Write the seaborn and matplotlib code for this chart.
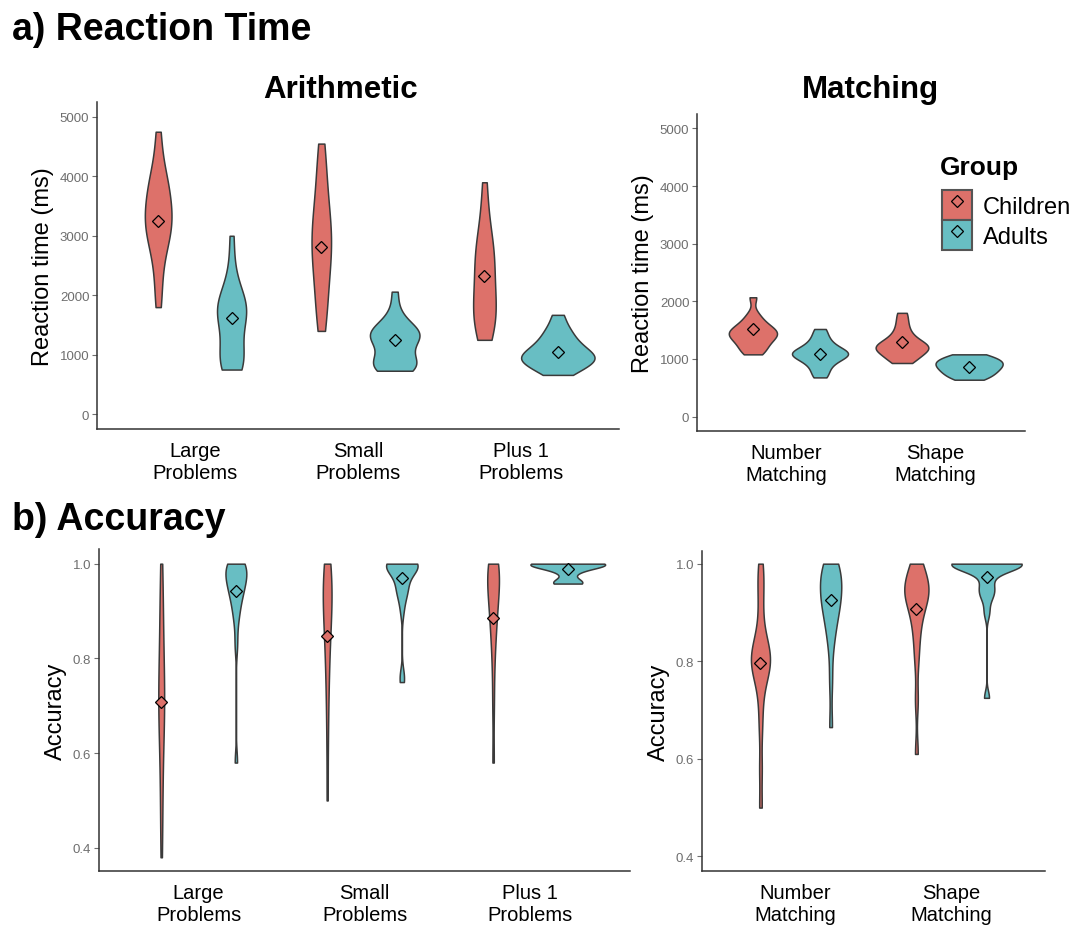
import numpy as np
import pandas as pd
import matplotlib
matplotlib.use("Agg")
import matplotlib.pyplot as plt
import seaborn as sns
from matplotlib.patches import Patch
from matplotlib.lines import Line2D
from matplotlib.legend_handler import HandlerTuple

# ---- data ----
groups = ["Children", "Adults"]
arith_tasks = ["Large\nProblems", "Small\nProblems", "Plus 1\nProblems"]
match_tasks = ["Number\nMatching", "Shape\nMatching"]

# reaction time (ms), arithmetic
rt_large_children = [1800, 2150, 2450, 2700, 2850, 2950, 3050, 3150, 3200, 3300,
                     3350, 3450, 3550, 3650, 3750, 3850, 3950, 4100, 4350, 4750]
rt_large_adults = [750, 770, 800, 850, 930, 1020, 1120, 1250, 1400, 1530, 1620,
                   1680, 1730, 1780, 1830, 1880, 1940, 2030, 2200, 2500, 3000]
rt_small_children = [1400, 1600, 1800, 2000, 2200, 2350, 2500, 2650, 2750, 2850,
                     2950, 3050, 3150, 3300, 3450, 3600, 3800, 4050, 4300, 4550]
rt_small_adults = [730, 745, 765, 790, 815, 845, 880, 925, 990, 1070, 1150, 1210,
                   1255, 1290, 1315, 1340, 1365, 1390, 1420, 1455, 1510, 1600,
                   1760, 2060]
rt_plus1_children = [1250, 1350, 1450, 1550, 1650, 1750, 1850, 1950, 2050, 2200,
                     2350, 2500, 2600, 2700, 2800, 2950, 3150, 3450, 3900]
rt_plus1_adults = [660, 715, 770, 815, 855, 885, 910, 935, 960, 990, 1020, 1055,
                   1095, 1140, 1190, 1250, 1320, 1400, 1500, 1670]

# reaction time (ms), matching
rt_number_children = [1080, 1130, 1190, 1250, 1300, 1340, 1380, 1410, 1440, 1460,
                      1490, 1520, 1560, 1610, 1680, 1780, 2070]
rt_number_adults = [680, 780, 870, 940, 990, 1030, 1060, 1080, 1100, 1120, 1150,
                    1190, 1240, 1310, 1400, 1520]
rt_shape_children = [930, 990, 1040, 1090, 1130, 1160, 1190, 1210, 1230, 1260,
                     1300, 1350, 1420, 1520, 1650, 1800]
rt_shape_adults = [640, 680, 720, 760, 790, 820, 850, 880, 905, 930, 955, 980,
                   1010, 1045, 1080]

# accuracy, arithmetic
acc_large_children = [0.38, 0.45, 0.50, 0.55, 0.60, 0.63, 0.66, 0.68, 0.70, 0.71,
                      0.72, 0.74, 0.76, 0.79, 0.82, 0.85, 0.88, 0.92, 0.96, 1.00]
acc_large_adults = [0.58, 0.83, 0.88, 0.90, 0.92, 0.93, 0.94, 0.95, 0.96, 0.96,
                    0.97, 0.98, 0.98, 0.99, 1.00, 1.00, 1.00, 1.00]
acc_small_children = [0.50, 0.62, 0.70, 0.75, 0.79, 0.82, 0.85, 0.87, 0.89, 0.90,
                      0.92, 0.93, 0.95, 0.96, 0.97, 0.98, 1.00, 1.00]
acc_small_adults = [0.75, 0.765, 0.90, 0.925, 0.94, 0.945, 0.95, 0.96, 0.975, 0.98,
                    0.99, 0.99, 1.0, 1.0, 1.0, 1.0, 1.0, 1.0, 1.0, 1.0, 1.0, 1.0]
acc_plus1_children = [0.58, 0.70, 0.78, 0.83, 0.86, 0.88, 0.90, 0.92, 0.93, 0.95,
                      0.96, 0.97, 0.98, 0.99, 1.00, 1.00, 1.00]
acc_plus1_adults = [0.958, 0.958, 0.958, 0.962, 0.965, 0.98, 0.985, 0.99, 0.99,
                    0.995, 1.0, 1.0, 1.0, 1.0, 1.0, 1.0, 1.0, 1.0, 1.0, 1.0]

# accuracy, matching
acc_number_children = [0.50, 0.58, 0.66, 0.71, 0.75, 0.77, 0.78, 0.79, 0.80, 0.80,
                       0.81, 0.82, 0.83, 0.84, 0.86, 0.90, 0.94, 0.97, 1.00]
acc_number_adults = [0.665, 0.76, 0.83, 0.86, 0.88, 0.90, 0.91, 0.92, 0.93, 0.94,
                     0.95, 0.96, 0.97, 0.98, 0.99, 1.00, 1.00]
acc_shape_children = [0.61, 0.72, 0.80, 0.84, 0.87, 0.89, 0.91, 0.92, 0.93, 0.94,
                      0.94, 0.95, 0.95, 0.96, 0.97, 0.98, 1.00, 1.00]
acc_shape_adults = [0.725, 0.90, 0.93, 0.94, 0.95, 0.96, 0.98, 0.99, 1.0, 1.0,
                    1.0, 1.0, 1.0, 1.0, 1.0, 1.0, 1.0, 1.0, 1.0, 1.0, 1.0]

# group means (diamonds): children row, adults row
rt_arith_means = [[3250, 2810, 2320], [1620, 1245, 1050]]
rt_match_means = [[1520, 1300], [1090, 860]]
acc_arith_means = [[0.707, 0.847, 0.886], [0.942, 0.970, 0.988]]
acc_match_means = [[0.797, 0.908], [0.925, 0.973]]

RED = "#DD716A"
TEAL = "#68BEC3"
EDGE = "#3A3A3A"
palette = {"Children": RED, "Adults": TEAL}


def long_df(tasks, series):
    rows = []
    for task, (child, adult) in zip(tasks, series):
        rows += [(task, "Children", v) for v in child]
        rows += [(task, "Adults", v) for v in adult]
    return pd.DataFrame(rows, columns=["task", "group", "value"])


def means_df(tasks, means):
    rows = []
    for g, vals in zip(groups, means):
        rows += [(t, g, v) for t, v in zip(tasks, vals)]
    return pd.DataFrame(rows, columns=["task", "group", "value"])


def nrd0(kde):
    # R's default bandwidth, as ggplot uses for geom_violin
    x = kde.dataset.ravel()
    sd = x.std(ddof=1)
    iqr = np.subtract(*np.percentile(x, [75, 25]))
    lo = min(sd, iqr / 1.34)
    if lo <= 0:
        lo = sd
    return 0.9 * lo * len(x) ** -0.2 / sd


rt_arith = long_df(arith_tasks, [(rt_large_children, rt_large_adults),
                                 (rt_small_children, rt_small_adults),
                                 (rt_plus1_children, rt_plus1_adults)])
rt_match = long_df(match_tasks, [(rt_number_children, rt_number_adults),
                                 (rt_shape_children, rt_shape_adults)])
acc_arith = long_df(arith_tasks, [(acc_large_children, acc_large_adults),
                                  (acc_small_children, acc_small_adults),
                                  (acc_plus1_children, acc_plus1_adults)])
acc_match = long_df(match_tasks, [(acc_number_children, acc_number_adults),
                                  (acc_shape_children, acc_shape_adults)])

sns.set_theme(style="white")
plt.rcParams["font.family"] = ["Liberation Sans", "DejaVu Sans"]
plt.rcParams["text.color"] = "black"
plt.rcParams["axes.labelcolor"] = "black"

W, H = 1075, 928
fig = plt.figure(figsize=(W / 100, H / 100), dpi=100)


def px_axes(left, top, right, bottom):
    return fig.add_axes([left / W, 1 - bottom / H, (right - left) / W, (bottom - top) / H])


def draw_panel(ax, df, means, tasks, ylim, yticks, ylabel, fmt):
    sns.violinplot(data=df, x="task", y="value", hue="group", order=tasks,
                   hue_order=groups, palette=palette, width=0.9, gap=0, cut=0,
                   inner=None, density_norm="area", common_norm=True,
                   bw_method=nrd0, saturation=1, linecolor=EDGE, linewidth=1.1,
                   legend=False, ax=ax)
    sns.pointplot(data=means_df(tasks, means), x="task", y="value", hue="group",
                  order=tasks, hue_order=groups, palette=palette, dodge=0.45,
                  linestyle="none", markers="D", markersize=6,
                  markeredgecolor="black", markeredgewidth=0.9, errorbar=None,
                  legend=False, ax=ax)
    ax.set_xlim(-0.6, len(tasks) - 0.4)
    ax.set_ylim(*ylim)
    ax.set_yticks(yticks)
    ax.set_yticklabels([fmt.format(t) for t in yticks])
    ax.set_xlabel("")
    ax.set_ylabel(ylabel, fontsize=17, labelpad=4)
    ax.spines["top"].set_visible(False)
    ax.spines["right"].set_visible(False)
    for s in ["left", "bottom"]:
        ax.spines[s].set_color("#333333")
        ax.spines[s].set_linewidth(1.1)
    ax.tick_params(axis="y", labelsize=9.5, labelcolor="#6E6E6E", color="#6E6E6E",
                   length=3.5, width=0.8, pad=2, left=True)
    ax.tick_params(axis="x", labelsize=14.5, labelcolor="black", length=0, pad=9)
    ax.grid(False)


ax1 = px_axes(97, 103, 619, 430)
draw_panel(ax1, rt_arith, rt_arith_means, arith_tasks, (-250, 5250),
           [0, 1000, 2000, 3000, 4000, 5000], "Reaction time (ms)", "{:.0f}")
ax2 = px_axes(697, 115, 1025, 432)
draw_panel(ax2, rt_match, rt_match_means, match_tasks, (-250, 5250),
           [0, 1000, 2000, 3000, 4000, 5000], "Reaction time (ms)", "{:.0f}")
ax3 = px_axes(99, 550, 630, 872)
draw_panel(ax3, acc_arith, acc_arith_means, arith_tasks, (0.351, 1.031),
           [0.4, 0.6, 0.8, 1.0], "Accuracy", "{:.1f}")
ax4 = px_axes(702, 552, 1045, 872)
draw_panel(ax4, acc_match, acc_match_means, match_tasks, (0.37, 1.026),
           [0.4, 0.6, 0.8, 1.0], "Accuracy", "{:.1f}")

# headings
fig.text(12 / W, 1 - 40 / H, "a) Reaction Time", fontsize=27, fontweight="bold",
         ha="left", va="baseline")
fig.text(12 / W, 1 - 530 / H, "b) Accuracy", fontsize=27, fontweight="bold",
         ha="left", va="baseline")
fig.text(341 / W, 1 - 98 / H, "Arithmetic", fontsize=22.5, fontweight="bold",
         ha="center", va="baseline")
fig.text(870 / W, 1 - 98 / H, "Matching", fontsize=22.5, fontweight="bold",
         ha="center", va="baseline")

# legend: filled key with the mean diamond on top
fig.text(940 / W, 1 - 175 / H, "Group", fontsize=19, fontweight="bold",
         ha="left", va="baseline")
handles = [(Patch(facecolor=palette[g], edgecolor="#555555", linewidth=1.5),
            Line2D([], [], linestyle="none", marker="D", markersize=6,
                   markerfacecolor="none", markeredgecolor="black",
                   markeredgewidth=0.9))
           for g in groups]
leg = fig.legend(handles, groups, loc="upper left",
                 bbox_to_anchor=(942 / W, 1 - 191 / H), frameon=False,
                 fontsize=17,
                 handler_map={tuple: HandlerTuple(ndivide=1, pad=0)},
                 handlelength=1.27, handleheight=1.58, labelspacing=0.0,
                 handletextpad=0.45, borderaxespad=0, borderpad=0)

fig.savefig("out.png", dpi=100)
